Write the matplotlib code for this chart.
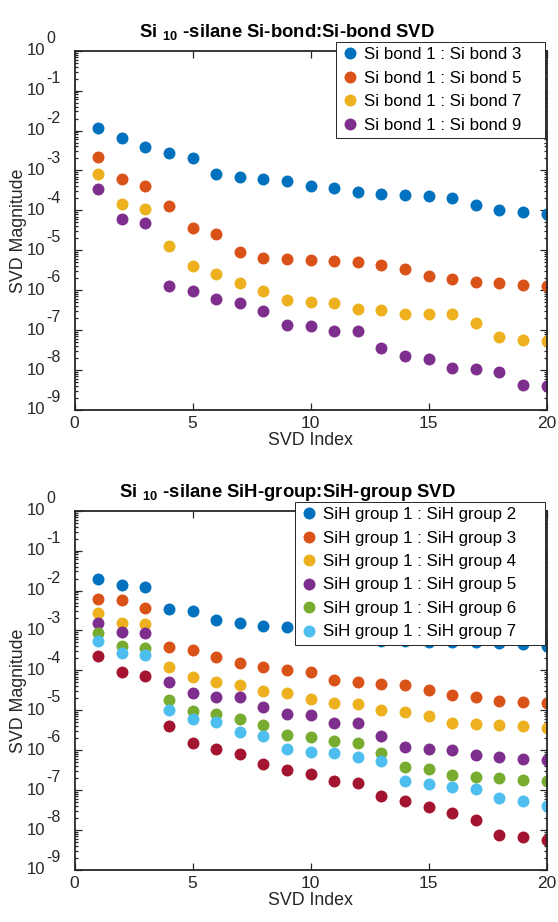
import numpy as np
import matplotlib.pyplot as plt
from matplotlib.ticker import LogLocator, NullFormatter, FixedLocator

plt.rcParams['font.family'] = ['Liberation Sans', 'DejaVu Sans']
plt.rcParams['mathtext.fontset'] = 'custom'
plt.rcParams['mathtext.rm'] = 'Liberation Sans'
plt.rcParams['mathtext.bf'] = 'Liberation Sans:bold'

# MATLAB default colour order
blue = (0.0, 0.447, 0.741)
orange = (0.85, 0.325, 0.098)
yellow = (0.929, 0.694, 0.125)
purple = (0.494, 0.184, 0.556)
green = (0.466, 0.674, 0.188)
cyan = (0.301, 0.745, 0.933)
darkred = (0.635, 0.078, 0.184)

idx = np.arange(1, 21)
decades = np.arange(-9, 1)

# Si-bond : Si-bond
bond_3 = [1.13e-2, 6.4e-3, 3.9e-3, 2.7e-3, 2.1e-3, 8.0e-4, 6.8e-4, 6.2e-4, 5.6e-4, 4.0e-4,
          3.7e-4, 2.9e-4, 2.6e-4, 2.5e-4, 2.3e-4, 2.1e-4, 1.36e-4, 1.02e-4, 9.3e-5, 8.1e-5]
bond_5 = [2.2e-3, 6.0e-4, 4.0e-4, 1.28e-4, 3.6e-5, 2.6e-5, 9.1e-6, 6.3e-6, 6.0e-6, 5.7e-6,
          5.4e-6, 5.1e-6, 4.3e-6, 3.4e-6, 2.3e-6, 1.87e-6, 1.6e-6, 1.5e-6, 1.35e-6, 1.26e-6]
bond_7 = [8.1e-4, 1.44e-4, 1.08e-4, 1.3e-5, 4.0e-6, 2.5e-6, 1.48e-6, 9.5e-7, 5.7e-7, 5.1e-7,
          4.7e-7, 3.3e-7, 3.2e-7, 2.6e-7, 2.6e-7, 2.6e-7, 1.5e-7, 6.8e-8, 5.6e-8, 5.3e-8]
bond_9 = [3.5e-4, 6.0e-5, 4.7e-5, 1.25e-6, 9.6e-7, 6.0e-7, 4.7e-7, 3.0e-7, 1.36e-7, 1.26e-7,
          9.8e-8, 9.4e-8, 3.6e-8, 2.3e-8, 1.88e-8, 1.14e-8, 1.05e-8, 8.9e-9, 4.2e-9, 4.0e-9]

# SiH-group : SiH-group
grp_2 = [1.9e-2, 1.38e-2, 1.23e-2, 3.4e-3, 3.1e-3, 1.82e-3, 1.56e-3, 1.29e-3, 1.2e-3, 1.1e-3,
         9.0e-4, 8.0e-4, 5.6e-4, 5.4e-4, 5.2e-4, 5.1e-4, 5.0e-4, 4.9e-4, 4.7e-4, 4.0e-4]
grp_3 = [6.0e-3, 5.7e-3, 3.6e-3, 3.8e-4, 3.2e-4, 2.2e-4, 1.5e-4, 1.2e-4, 1.02e-4, 8.9e-5,
         5.8e-5, 5.2e-5, 4.5e-5, 4.4e-5, 3.3e-5, 2.45e-5, 2.2e-5, 1.67e-5, 1.57e-5, 1.54e-5]
grp_4 = [2.8e-3, 1.56e-3, 1.42e-3, 1.23e-4, 6.9e-5, 5.0e-5, 4.3e-5, 3.1e-5, 2.75e-5, 1.9e-5,
         1.55e-5, 1.45e-5, 1.03e-5, 8.9e-6, 7.4e-6, 4.9e-6, 4.6e-6, 4.3e-6, 4.0e-6, 3.6e-6]
grp_5 = [1.56e-3, 9.1e-4, 8.5e-4, 5.0e-5, 2.75e-5, 2.2e-5, 2.1e-5, 1.23e-5, 8.3e-6, 7.6e-6,
         4.8e-6, 4.7e-6, 2.3e-6, 1.22e-6, 1.1e-6, 1.0e-6, 7.6e-7, 6.9e-7, 6.0e-7, 5.6e-7]
grp_6 = [8.5e-4, 4.2e-4, 3.6e-4, 1.8e-5, 9.4e-6, 7.9e-6, 6.1e-6, 4.3e-6, 2.4e-6, 2.1e-6,
         1.73e-6, 1.48e-6, 8.6e-7, 3.7e-7, 3.3e-7, 2.4e-7, 2.1e-7, 2.0e-7, 1.8e-7, 1.65e-7]
grp_7 = [5.4e-4, 2.7e-4, 2.5e-4, 1.0e-5, 6.1e-6, 5.0e-6, 2.9e-6, 2.3e-6, 1.07e-6, 9.0e-7,
         8.3e-7, 6.9e-7, 5.4e-7, 1.69e-7, 1.41e-7, 1.2e-7, 1.1e-7, 6.2e-8, 5.2e-8, 4.1e-8]
grp_8 = [2.3e-4, 9.3e-5, 7.3e-5, 4.0e-6, 1.48e-6, 1.05e-6, 8.0e-7, 4.5e-7, 3.2e-7, 2.5e-7,
         1.7e-7, 1.5e-7, 7.2e-8, 5.2e-8, 3.8e-8, 2.7e-8, 1.78e-8, 7.4e-9, 6.8e-9, 5.8e-9]

bond_series = [bond_3, bond_5, bond_7, bond_9]
bond_labels = ['Si bond 1 : Si bond 3', 'Si bond 1 : Si bond 5',
               'Si bond 1 : Si bond 7', 'Si bond 1 : Si bond 9']
bond_colors = [blue, orange, yellow, purple]

grp_series = [grp_2, grp_3, grp_4, grp_5, grp_6, grp_7, grp_8]
grp_labels = ['SiH group 1 : SiH group 2', 'SiH group 1 : SiH group 3',
              'SiH group 1 : SiH group 4', 'SiH group 1 : SiH group 5',
              'SiH group 1 : SiH group 6', 'SiH group 1 : SiH group 7']
grp_colors = [blue, orange, yellow, purple, green, cyan, darkred]

axcol = (0.15, 0.15, 0.15)
W, H = 558, 922

fig = plt.figure(figsize=(W / 100, H / 100), dpi=100)
ax1 = fig.add_axes([74.6 / W, 1 - 410 / H, 472 / W, 359.3 / H])
ax2 = fig.add_axes([74.6 / W, 1 - 870 / H, 472 / W, 359.3 / H])


def style(ax, title):
    ax.set_yscale('log')
    ax.set_xlim(0, 20)
    ax.set_ylim(1e-9, 1)
    ax.xaxis.set_major_locator(FixedLocator([0, 5, 10, 15, 20]))
    ax.yaxis.set_major_locator(LogLocator(base=10, numticks=20))
    ax.yaxis.set_minor_locator(LogLocator(base=10, subs=np.arange(2, 10), numticks=20))
    ax.yaxis.set_minor_formatter(NullFormatter())
    ax.yaxis.set_major_formatter(NullFormatter())
    ax.tick_params(which='both', direction='in', top=True, right=True,
                   colors=axcol, labelcolor=axcol, width=0.9)
    ax.tick_params(axis='x', labelsize=12.5, pad=4)
    ax.tick_params(which='major', length=5)
    ax.tick_params(which='minor', length=2.5)
    for s in ax.spines.values():
        s.set_color(axcol)
        s.set_linewidth(1.3)
    # MATLAB style 10^n labels with large exponents
    for e in decades:
        ax.annotate('10', xy=(0, 10.0 ** e), xycoords=('axes fraction', 'data'),
                    xytext=(-21, 0), textcoords='offset points',
                    ha='right', va='center', fontsize=12, color=axcol)
        ax.annotate(str(e), xy=(0, 10.0 ** e), xycoords=('axes fraction', 'data'),
                    xytext=(-20.5, 3.5), textcoords='offset points',
                    ha='left', va='bottom', fontsize=11.5, color=axcol)
    ax.set_xlabel('SVD Index', fontsize=12.8, color=axcol, labelpad=1)
    ax.set_ylabel('SVD Magnitude', fontsize=12.8, color=axcol, labelpad=31)
    ax.set_title(title, fontsize=13.3, fontweight='bold', pad=10, x=0.45)


def legend(ax, left, top, bottom):
    leg = ax.legend(loc='upper right',
                    bbox_to_anchor=(left / W, 1 - bottom / H, (545 - left) / W, (bottom - top) / H),
                    bbox_transform=fig.transFigure, mode='expand', fontsize=12.2,
                    frameon=True, fancybox=False, edgecolor=(0.15, 0.15, 0.15),
                    framealpha=1, handlelength=1.05, handletextpad=0.3,
                    labelspacing=0.5, borderpad=0.3, borderaxespad=0)
    leg.get_frame().set_linewidth(0.7)


for vals, lab, c in zip(bond_series, bond_labels, bond_colors):
    ax1.plot(idx, vals, 'o', ls='none', color=c, markersize=8.6, mew=0, label=lab)
style(ax1, r'Si$_{\;\,\mathbf{10}\;\,}$-silane Si-bond:Si-bond SVD')
legend(ax1, 336, 42, 136)

for i, (vals, c) in enumerate(zip(grp_series, grp_colors)):
    lab = grp_labels[i] if i < len(grp_labels) else '_nolegend_'
    ax2.plot(idx, vals, 'o', ls='none', color=c, markersize=8.6, mew=0, label=lab)
style(ax2, r'Si$_{\;\,\mathbf{10}\;\,}$-silane SiH-group:SiH-group SVD')
legend(ax2, 295, 502, 642)

fig.savefig('out.png', dpi=100)
